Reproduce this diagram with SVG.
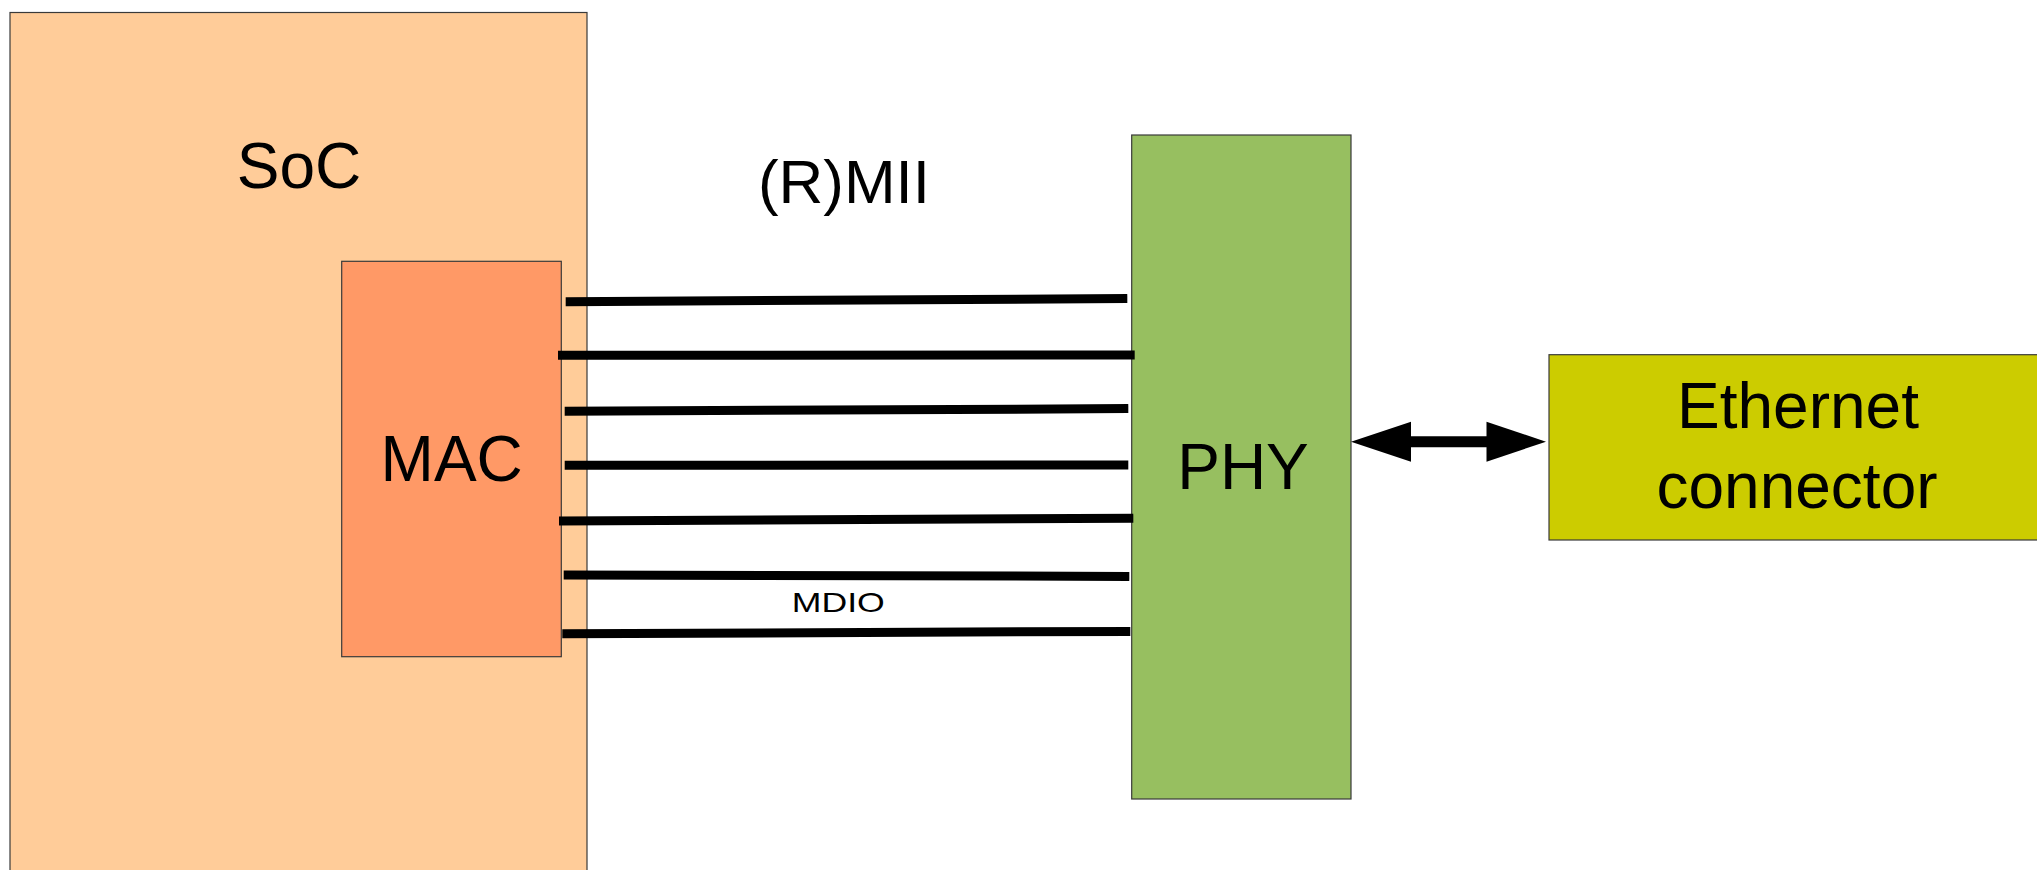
<svg xmlns="http://www.w3.org/2000/svg" width="2037" height="870" viewBox="0 0 2037 870">
<style>
.box{stroke:#3a3a3a;stroke-width:1.2}
.lbl{font-family:"Liberation Sans",Arial,sans-serif;fill:#000;text-anchor:middle}
.wire{stroke:#000;stroke-width:9;fill:none}
</style>
<rect width="2037" height="870" fill="#fff"/>
<g id="soc">
<rect class="box" x="10" y="12.5" width="577" height="880" fill="#ffcc99"/>
<text class="lbl" x="299" y="188" font-size="64">SoC</text>
</g>
<g id="mac">
<rect class="box" x="341.7" y="261.3" width="219.6" height="395.4" fill="#ff9966"/>
<text class="lbl" x="451.7" y="480.7" font-size="64">MAC</text>
</g>
<g id="phy">
<rect class="box" x="1131.7" y="135" width="219.3" height="664" fill="#97bf60"/>
<text class="lbl" x="1243" y="488.5" font-size="64">PHY</text>
</g>
<g id="ethernet">
<rect class="box" x="1549" y="354.7" width="500" height="185.3" fill="#cccc00"/>
<text class="lbl" x="1798" y="428.3" font-size="64">Ethernet</text>
<text class="lbl" x="1797" y="507.7" font-size="64">connector</text>
</g>
<g id="connectors">
<line class="wire" x1="565.7" y1="301.7" x2="1127.3" y2="298.6"/>
<line class="wire" x1="558" y1="355.3" x2="1134.7" y2="355"/>
<line class="wire" x1="564.7" y1="411.3" x2="1128.3" y2="408.6"/>
<line class="wire" x1="564.7" y1="465.3" x2="1128.3" y2="465"/>
<line class="wire" x1="559" y1="521" x2="1133.3" y2="518.2"/>
<line class="wire" x1="563.7" y1="575" x2="1129.3" y2="576.4"/>
<line class="wire" x1="562.3" y1="633.7" x2="1130.3" y2="631.4"/>
<line x1="1400" y1="441.7" x2="1497" y2="441.7" stroke="#000" stroke-width="11"/>
<path d="M1351,441.7 L1411,421.7 L1411,461.7 Z" fill="#000"/>
<path d="M1546,441.7 L1486.5,421.7 L1486.5,461.7 Z" fill="#000"/>
</g>
<g id="labels">
<text class="lbl" x="844" y="202.7" font-size="62">(R)MII</text>
<text class="lbl" x="838.3" y="612.3" font-size="28" textLength="93" lengthAdjust="spacingAndGlyphs">MDIO</text>
</g>
</svg>
